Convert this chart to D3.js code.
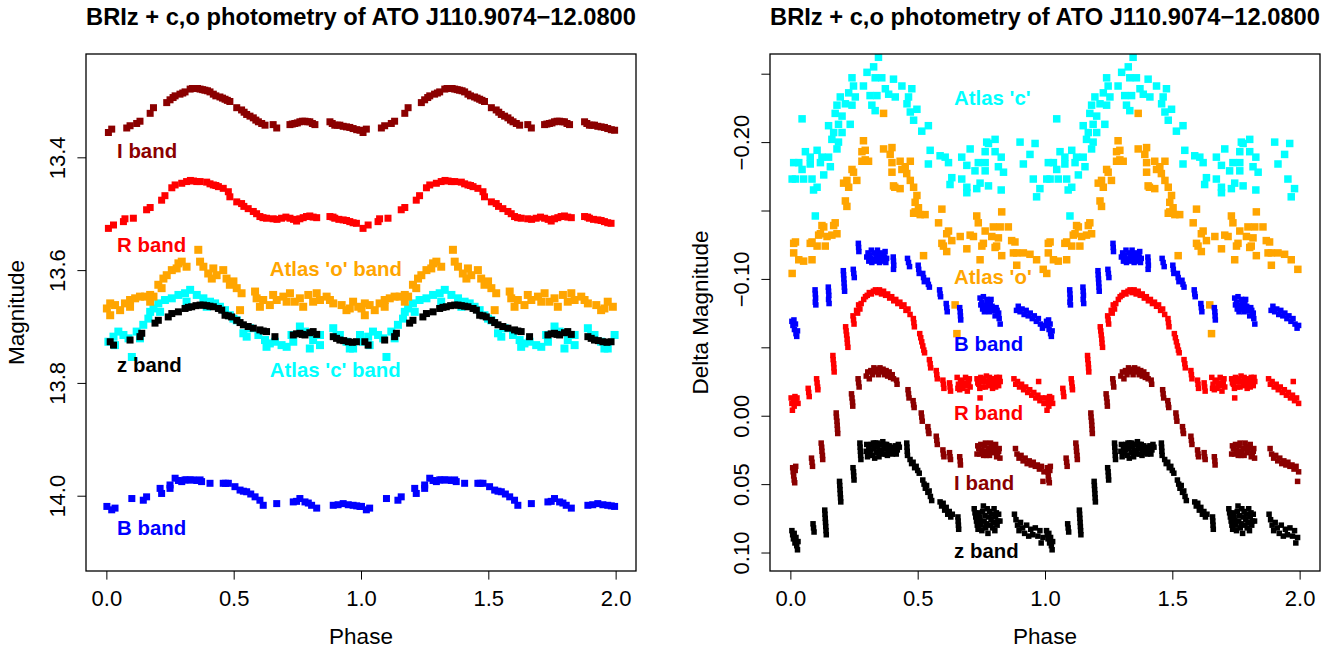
<!DOCTYPE html>
<html>
<head>
<meta charset="utf-8">
<script src="https://cdn.jsdelivr.net/npm/d3@7"></script>
<style>
  body { margin: 0; background: #fff; }
  svg text { font-family: "Liberation Sans", Arial, Helvetica, sans-serif; }
</style>
</head>
<body>
<svg id="chart" width="1344" height="650"></svg>
<script>
// ---------------------------------------------------------------
// Folded light curves of ATO J110.9074-12.0800, one cycle each as
// [phase, value]; every cycle is plotted twice (phase and phase + 1).
// ---------------------------------------------------------------

const titleText = "BRIz + c,o photometry of ATO J110.9074\u221212.0800";
const xTicks = [0, 0.5, 1, 1.5, 2];
const xTickLabels = ["0.0", "0.5", "1.0", "1.5", "2.0"];

// ---- left panel: apparent magnitudes ----
const magTicks = [13.4, 13.6, 13.8, 14.0];
const magTickLabels = ["13.4", "13.6", "13.8", "14.0"];

const magI = [
  [0.008,13.356],[0.021,13.350],[0.080,13.348],[0.093,13.344],[0.119,13.340],[0.132,13.336],
  [0.172,13.322],[0.185,13.312],[0.237,13.303],[0.250,13.298],[0.262,13.294],[0.270,13.291],
  [0.289,13.288],[0.300,13.286],[0.309,13.284],[0.329,13.279],[0.338,13.278],[0.348,13.278],
  [0.358,13.278],[0.368,13.279],[0.378,13.280],[0.387,13.281],[0.397,13.282],[0.407,13.284],
  [0.420,13.288],[0.430,13.291],[0.446,13.293],[0.456,13.295],[0.466,13.297],[0.475,13.299],
  [0.485,13.301],[0.512,13.312],[0.531,13.316],[0.541,13.320],[0.551,13.324],[0.564,13.327],
  [0.577,13.330],[0.587,13.334],[0.597,13.337],[0.610,13.340],[0.623,13.343],[0.655,13.342],
  [0.669,13.348],[0.721,13.342],[0.730,13.341],[0.740,13.340],[0.750,13.339],[0.760,13.337],
  [0.770,13.336],[0.780,13.336],[0.790,13.337],[0.799,13.337],[0.809,13.340],[0.819,13.342],
  [0.878,13.337],[0.887,13.340],[0.897,13.343],[0.907,13.343],[0.917,13.343],[0.930,13.345],
  [0.943,13.346],[0.956,13.347],[0.969,13.349],[0.983,13.351],[0.996,13.352]
];

const magR = [
  [0.008,13.526],[0.028,13.520],[0.067,13.514],[0.073,13.509],[0.106,13.508],[0.158,13.493],
  [0.172,13.489],[0.217,13.476],[0.230,13.468],[0.257,13.454],[0.270,13.449],[0.296,13.446],
  [0.315,13.443],[0.330,13.441],[0.342,13.442],[0.355,13.443],[0.368,13.443],[0.394,13.444],
  [0.407,13.447],[0.420,13.449],[0.430,13.450],[0.440,13.452],[0.459,13.455],[0.479,13.461],
  [0.485,13.470],[0.512,13.479],[0.531,13.482],[0.540,13.487],[0.557,13.491],[0.577,13.496],
  [0.590,13.500],[0.603,13.505],[0.615,13.507],[0.629,13.508],[0.655,13.509],[0.670,13.510],
  [0.688,13.508],[0.705,13.506],[0.721,13.508],[0.735,13.510],[0.747,13.513],[0.760,13.509],
  [0.773,13.507],[0.786,13.505],[0.799,13.504],[0.812,13.506],[0.826,13.507],[0.878,13.505],
  [0.890,13.506],[0.897,13.508],[0.913,13.510],[0.930,13.511],[0.943,13.512],[0.956,13.514],
  [0.969,13.516],[0.982,13.517]
];

const magO = [
  [0.002,13.668],[0.015,13.680],[0.015,13.659],[0.034,13.662],[0.054,13.671],[0.073,13.659],
  [0.093,13.653],[0.093,13.665],[0.113,13.650],[0.132,13.647],[0.152,13.647],[0.172,13.644],
  [0.172,13.656],[0.185,13.647],[0.204,13.626],[0.217,13.632],[0.224,13.615],[0.237,13.609],
  [0.257,13.600],[0.276,13.597],[0.283,13.588],[0.296,13.585],[0.315,13.594],[0.361,13.564],
  [0.368,13.585],[0.381,13.594],[0.400,13.606],[0.414,13.615],[0.420,13.597],[0.433,13.609],
  [0.459,13.600],[0.472,13.615],[0.485,13.626],[0.499,13.620],[0.512,13.632],[0.525,13.671],
  [0.531,13.641],[0.584,13.638],[0.590,13.650],[0.603,13.665],[0.616,13.653],[0.642,13.662],
  [0.655,13.644],[0.669,13.653],[0.695,13.647],[0.708,13.656],[0.721,13.641],[0.740,13.656],
  [0.760,13.650],[0.773,13.665],[0.793,13.644],[0.812,13.656],[0.826,13.641],[0.839,13.653],
  [0.865,13.647],[0.878,13.653],[0.891,13.659],[0.924,13.662],[0.943,13.671],[0.956,13.668],
  [0.969,13.656],[0.989,13.665]
];

const magC = [
  [0.008,13.727],[0.028,13.718],[0.034,13.733],[0.047,13.709],[0.067,13.715],[0.087,13.721],
  [0.100,13.754],[0.119,13.709],[0.132,13.721],[0.145,13.697],[0.165,13.686],[0.172,13.674],
  [0.185,13.668],[0.204,13.659],[0.211,13.674],[0.230,13.653],[0.257,13.650],[0.283,13.644],
  [0.309,13.641],[0.315,13.656],[0.329,13.635],[0.355,13.644],[0.381,13.650],[0.394,13.665],
  [0.407,13.656],[0.427,13.659],[0.446,13.665],[0.466,13.671],[0.485,13.680],[0.499,13.686],
  [0.512,13.689],[0.538,13.712],[0.551,13.718],[0.564,13.703],[0.597,13.715],[0.623,13.724],
  [0.629,13.736],[0.642,13.730],[0.662,13.727],[0.688,13.733],[0.708,13.736],[0.727,13.715],
  [0.734,13.727],[0.760,13.700],[0.780,13.709],[0.799,13.739],[0.812,13.724],[0.839,13.733],
  [0.839,13.715],[0.891,13.703],[0.904,13.715],[0.917,13.715],[0.943,13.727],[0.956,13.739],
  [0.969,13.739],[0.996,13.715]
];

const magZ = [
  [0.015,13.727],[0.028,13.733],[0.093,13.724],[0.132,13.718],[0.139,13.712],[0.191,13.694],
  [0.204,13.689],[0.243,13.683],[0.257,13.677],[0.283,13.674],[0.309,13.668],[0.322,13.666],
  [0.335,13.665],[0.352,13.663],[0.368,13.662],[0.381,13.662],[0.394,13.663],[0.407,13.664],
  [0.420,13.665],[0.440,13.668],[0.453,13.671],[0.466,13.680],[0.479,13.681],[0.492,13.683],
  [0.512,13.689],[0.525,13.693],[0.538,13.697],[0.557,13.700],[0.577,13.703],[0.603,13.706],
  [0.616,13.708],[0.629,13.709],[0.662,13.718],[0.734,13.715],[0.747,13.713],[0.760,13.712],
  [0.770,13.714],[0.780,13.715],[0.799,13.711],[0.812,13.709],[0.826,13.714],[0.891,13.718],
  [0.904,13.721],[0.917,13.724],[0.932,13.725],[0.950,13.727],[0.966,13.728],[0.982,13.727]
];

const magB = [
  [0.002,14.019],[0.021,14.025],[0.034,14.022],[0.100,14.005],[0.145,14.008],[0.158,14.002],
  [0.211,13.987],[0.217,13.996],[0.250,13.981],[0.250,13.987],[0.270,13.969],[0.283,13.973],
  [0.296,13.975],[0.309,13.972],[0.315,13.972],[0.329,13.972],[0.342,13.972],[0.355,13.973],
  [0.368,13.972],[0.374,13.975],[0.407,13.978],[0.459,13.978],[0.468,13.978],[0.479,13.978],
  [0.505,13.984],[0.525,13.990],[0.538,13.992],[0.551,13.993],[0.567,13.997],[0.584,14.002],
  [0.603,14.008],[0.616,14.017],[0.669,14.014],[0.734,14.011],[0.747,14.010],[0.760,14.005],
  [0.780,14.011],[0.793,14.013],[0.806,14.017],[0.826,14.022],[0.891,14.017],[0.910,14.016],
  [0.930,14.014],[0.950,14.016],[0.969,14.017],[0.983,14.018],[0.996,14.019]
];

// ---- right panel: magnitudes relative to each band's mean ----
const dmTicks = [-0.25, -0.20, -0.15, -0.10, -0.05, 0.00, 0.05, 0.10];
const dmTickLabels = ["", "\u22120.20", "", "\u22120.10", "", "0.00", "0.05", "0.10"];

const dmC = [
  [0.007,-0.173],[0.013,-0.185],[0.020,-0.173],[0.033,-0.185],[0.046,-0.180],[0.046,-0.217],
  [0.052,-0.173],[0.059,-0.193],[0.078,-0.189],[0.078,-0.184],[0.085,-0.173],[0.091,-0.165],
  [0.098,-0.146],[0.105,-0.194],[0.105,-0.167],[0.118,-0.185],[0.124,-0.189],[0.131,-0.176],
  [0.150,-0.189],[0.150,-0.212],[0.157,-0.182],[0.163,-0.202],[0.170,-0.207],[0.176,-0.221],
  [0.183,-0.227],[0.183,-0.195],[0.189,-0.213],[0.189,-0.200],[0.196,-0.233],[0.203,-0.219],
  [0.203,-0.207],[0.216,-0.228],[0.229,-0.236],[0.235,-0.213],[0.242,-0.247],[0.242,-0.227],
  [0.248,-0.241],[0.255,-0.233],[0.287,-0.241],[0.301,-0.251],[0.313,-0.234],[0.320,-0.227],
  [0.327,-0.255],[0.333,-0.247],[0.333,-0.223],[0.340,-0.234],[0.346,-0.262],[0.359,-0.247],
  [0.373,-0.239],[0.386,-0.235],[0.405,-0.246],[0.412,-0.233],[0.438,-0.241],[0.458,-0.228],
  [0.464,-0.233],[0.471,-0.222],[0.477,-0.239],[0.484,-0.216],[0.497,-0.224],[0.516,-0.208],
  [0.542,-0.212],[0.542,-0.184],[0.549,-0.194],[0.588,-0.190],[0.608,-0.189],[0.621,-0.185],
  [0.627,-0.169],[0.634,-0.174],[0.673,-0.189],[0.673,-0.173],[0.693,-0.183],[0.693,-0.167],
  [0.693,-0.163],[0.706,-0.195],[0.725,-0.179],[0.732,-0.166],[0.738,-0.185],[0.745,-0.170],
  [0.765,-0.179],[0.765,-0.185],[0.765,-0.193],[0.771,-0.200],[0.778,-0.199],[0.778,-0.168],
  [0.804,-0.193],[0.804,-0.202],[0.817,-0.182],[0.828,-0.189],[0.828,-0.165],[0.837,-0.178],
  [0.902,-0.200],[0.915,-0.184],[0.941,-0.191],[0.954,-0.173],[0.961,-0.199],[0.967,-0.160],
  [0.980,-0.166]
];

const dmO = [
  [0.007,-0.104],[0.013,-0.126],[0.013,-0.119],[0.020,-0.127],[0.033,-0.114],[0.052,-0.113],
  [0.078,-0.126],[0.085,-0.114],[0.085,-0.127],[0.105,-0.124],[0.111,-0.132],[0.118,-0.133],
  [0.124,-0.139],[0.131,-0.138],[0.137,-0.124],[0.144,-0.131],[0.163,-0.132],[0.170,-0.139],
  [0.176,-0.141],[0.183,-0.133],[0.209,-0.170],[0.216,-0.157],[0.222,-0.153],[0.222,-0.172],
  [0.229,-0.167],[0.242,-0.180],[0.248,-0.178],[0.261,-0.172],[0.281,-0.186],[0.281,-0.193],
  [0.287,-0.201],[0.294,-0.194],[0.294,-0.187],[0.307,-0.186],[0.366,-0.221],[0.366,-0.195],
  [0.392,-0.191],[0.399,-0.196],[0.399,-0.185],[0.399,-0.178],[0.405,-0.168],[0.410,-0.167],
  [0.431,-0.186],[0.431,-0.166],[0.438,-0.180],[0.451,-0.182],[0.457,-0.177],[0.471,-0.186],
  [0.471,-0.172],[0.484,-0.167],[0.484,-0.148],[0.490,-0.156],[0.490,-0.149],[0.497,-0.161],
  [0.503,-0.152],[0.510,-0.147],[0.523,-0.117],[0.529,-0.147],[0.582,-0.141],[0.595,-0.151],
  [0.595,-0.126],[0.601,-0.124],[0.614,-0.133],[0.614,-0.120],[0.621,-0.135],[0.634,-0.128],
  [0.647,-0.081],[0.654,-0.060],[0.667,-0.131],[0.693,-0.122],[0.706,-0.132],[0.719,-0.131],
  [0.732,-0.146],[0.738,-0.141],[0.745,-0.114],[0.752,-0.124],[0.758,-0.126],[0.765,-0.135],
  [0.791,-0.131],[0.797,-0.138],[0.804,-0.123],[0.810,-0.124],[0.817,-0.130],[0.824,-0.138],
  [0.830,-0.149],[0.830,-0.117],[0.856,-0.138],[0.869,-0.128],[0.876,-0.119],[0.882,-0.127],
  [0.889,-0.119],[0.889,-0.110],[0.915,-0.119],[0.941,-0.118],[0.967,-0.114],[0.993,-0.107]
];

const dmB = [
  [0.006,-0.069],[0.010,-0.066],[0.014,-0.070],[0.016,-0.063],[0.020,-0.067],[0.022,-0.060],
  [0.025,-0.058],[0.028,-0.062],[0.097,-0.092],[0.098,-0.089],[0.099,-0.086],[0.098,-0.083],
  [0.100,-0.081],[0.149,-0.094],[0.150,-0.091],[0.151,-0.088],[0.150,-0.085],[0.152,-0.082],
  [0.208,-0.106],[0.209,-0.103],[0.210,-0.100],[0.211,-0.097],[0.212,-0.094],[0.213,-0.091],
  [0.247,-0.107],[0.249,-0.104],[0.251,-0.101],[0.267,-0.126],[0.268,-0.123],[0.269,-0.120],
  [0.300,-0.116],[0.305,-0.119],[0.308,-0.113],[0.312,-0.117],[0.315,-0.115],[0.318,-0.121],
  [0.320,-0.112],[0.325,-0.114],[0.330,-0.119],[0.333,-0.113],[0.336,-0.116],[0.342,-0.121],
  [0.345,-0.115],[0.348,-0.118],[0.350,-0.112],[0.355,-0.114],[0.360,-0.119],[0.363,-0.113],
  [0.366,-0.117],[0.370,-0.116],[0.372,-0.120],[0.375,-0.112],[0.378,-0.115],[0.404,-0.116],
  [0.405,-0.113],[0.406,-0.110],[0.405,-0.107],[0.460,-0.115],[0.464,-0.112],[0.468,-0.109],
  [0.502,-0.110],[0.504,-0.107],[0.506,-0.104],[0.520,-0.104],[0.523,-0.101],[0.526,-0.098],
  [0.538,-0.099],[0.542,-0.096],[0.546,-0.094],[0.586,-0.092],[0.588,-0.089],[0.590,-0.087],
  [0.612,-0.082],[0.614,-0.079],[0.616,-0.076],[0.665,-0.079],[0.667,-0.076],[0.668,-0.073],
  [0.669,-0.070],[0.745,-0.086],[0.748,-0.081],[0.752,-0.083],[0.755,-0.078],[0.758,-0.087],
  [0.762,-0.076],[0.765,-0.081],[0.768,-0.078],[0.772,-0.085],[0.775,-0.082],[0.778,-0.079],
  [0.782,-0.076],[0.785,-0.083],[0.788,-0.085],[0.792,-0.080],[0.796,-0.079],[0.800,-0.077],
  [0.804,-0.073],[0.808,-0.079],[0.812,-0.077],[0.815,-0.074],[0.818,-0.075],[0.820,-0.071],
  [0.824,-0.067],[0.888,-0.077],[0.895,-0.080],[0.902,-0.076],[0.910,-0.078],[0.918,-0.074],
  [0.926,-0.077],[0.934,-0.073],[0.942,-0.075],[0.950,-0.071],[0.958,-0.073],[0.966,-0.069],
  [0.974,-0.071],[0.982,-0.067],[0.990,-0.064],[0.996,-0.066]
];

const dmR = [
  [0.003,-0.013],[0.006,-0.009],[0.008,-0.004],[0.012,-0.011],[0.015,-0.007],[0.018,-0.014],
  [0.022,-0.010],[0.026,-0.013],[0.030,-0.009],[0.070,-0.020],[0.072,-0.017],[0.074,-0.014],
  [0.103,-0.027],[0.105,-0.024],[0.107,-0.021],[0.108,-0.019],[0.167,-0.044],[0.168,-0.041],
  [0.170,-0.038],[0.171,-0.035],[0.172,-0.032],[0.217,-0.065],[0.219,-0.062],[0.221,-0.059],
  [0.223,-0.056],[0.224,-0.053],[0.226,-0.050],[0.246,-0.073],[0.248,-0.070],[0.250,-0.067],
  [0.260,-0.077],[0.264,-0.075],[0.268,-0.081],[0.273,-0.078],[0.278,-0.082],[0.288,-0.085],
  [0.295,-0.087],[0.302,-0.088],[0.310,-0.090],[0.318,-0.089],[0.326,-0.091],[0.334,-0.092],
  [0.342,-0.090],[0.350,-0.092],[0.358,-0.089],[0.366,-0.091],[0.374,-0.088],[0.382,-0.089],
  [0.390,-0.086],[0.398,-0.087],[0.406,-0.084],[0.414,-0.085],[0.422,-0.082],[0.430,-0.083],
  [0.438,-0.080],[0.446,-0.081],[0.454,-0.077],[0.462,-0.078],[0.470,-0.074],[0.483,-0.071],
  [0.485,-0.068],[0.487,-0.065],[0.508,-0.060],[0.512,-0.057],[0.516,-0.054],[0.520,-0.051],
  [0.524,-0.048],[0.527,-0.046],[0.546,-0.041],[0.549,-0.038],[0.551,-0.035],[0.573,-0.033],
  [0.575,-0.030],[0.577,-0.027],[0.599,-0.026],[0.601,-0.023],[0.603,-0.020],[0.625,-0.024],
  [0.627,-0.021],[0.629,-0.018],[0.655,-0.028],[0.658,-0.020],[0.660,-0.023],[0.665,-0.019],
  [0.668,-0.025],[0.672,-0.026],[0.676,-0.020],[0.680,-0.022],[0.684,-0.024],[0.688,-0.028],
  [0.692,-0.022],[0.695,-0.018],[0.700,-0.024],[0.703,-0.027],[0.706,-0.021],[0.733,-0.027],
  [0.736,-0.024],[0.740,-0.023],[0.744,-0.020],[0.745,-0.013],[0.748,-0.028],[0.752,-0.025],
  [0.755,-0.021],[0.759,-0.027],[0.762,-0.025],[0.766,-0.021],[0.770,-0.029],[0.774,-0.025],
  [0.778,-0.022],[0.782,-0.028],[0.786,-0.026],[0.790,-0.023],[0.794,-0.020],[0.798,-0.027],
  [0.802,-0.024],[0.806,-0.021],[0.810,-0.028],[0.814,-0.025],[0.818,-0.022],[0.821,-0.028],
  [0.824,-0.025],[0.878,-0.027],[0.885,-0.023],[0.892,-0.025],[0.900,-0.021],[0.908,-0.023],
  [0.916,-0.019],[0.924,-0.021],[0.932,-0.017],[0.940,-0.019],[0.948,-0.015],[0.956,-0.017],
  [0.964,-0.013],[0.972,-0.015],[0.975,-0.025],[0.980,-0.011],[0.988,-0.013],[0.996,-0.009]
];

const dmI = [
  [0.009,0.038],[0.011,0.041],[0.013,0.044],[0.015,0.047],[0.017,0.049],[0.019,0.040],
  [0.021,0.037],[0.083,0.031],[0.085,0.034],[0.087,0.037],[0.121,0.020],[0.123,0.023],
  [0.124,0.026],[0.126,0.029],[0.127,0.032],[0.180,-0.002],[0.181,0.001],[0.183,0.004],
  [0.184,0.007],[0.185,0.010],[0.186,0.013],[0.240,-0.016],[0.242,-0.013],[0.244,-0.010],
  [0.245,-0.007],[0.266,-0.027],[0.268,-0.024],[0.270,-0.021],[0.298,-0.029],[0.304,-0.032],
  [0.310,-0.027],[0.316,-0.033],[0.322,-0.030],[0.328,-0.035],[0.334,-0.032],[0.340,-0.034],
  [0.346,-0.030],[0.352,-0.035],[0.358,-0.032],[0.364,-0.034],[0.370,-0.030],[0.376,-0.033],
  [0.382,-0.029],[0.388,-0.032],[0.394,-0.028],[0.400,-0.030],[0.405,-0.027],[0.417,-0.026],
  [0.419,-0.023],[0.462,-0.019],[0.464,-0.016],[0.466,-0.013],[0.482,-0.011],[0.484,-0.008],
  [0.486,-0.006],[0.514,-0.002],[0.516,0.001],[0.518,0.004],[0.540,0.008],[0.542,0.011],
  [0.544,0.013],[0.573,0.015],[0.575,0.018],[0.577,0.021],[0.599,0.025],[0.601,0.028],
  [0.603,0.030],[0.625,0.027],[0.627,0.030],[0.629,0.032],[0.665,0.030],[0.667,0.033],
  [0.668,0.036],[0.733,0.028],[0.736,0.022],[0.740,0.024],[0.744,0.028],[0.748,0.021],
  [0.752,0.025],[0.755,0.026],[0.759,0.029],[0.762,0.022],[0.766,0.020],[0.770,0.029],
  [0.774,0.026],[0.778,0.024],[0.782,0.029],[0.786,0.020],[0.790,0.023],[0.794,0.027],
  [0.798,0.025],[0.802,0.023],[0.806,0.021],[0.810,0.030],[0.814,0.028],[0.818,0.026],
  [0.820,0.024],[0.823,0.031],[0.884,0.024],[0.890,0.028],[0.898,0.031],[0.906,0.029],
  [0.914,0.033],[0.922,0.031],[0.930,0.035],[0.938,0.033],[0.946,0.036],[0.954,0.034],
  [0.962,0.037],[0.970,0.036],[0.978,0.039],[0.986,0.037],[0.992,0.048],[0.996,0.041]
];

const dmZ = [
  [0.006,0.084],[0.009,0.087],[0.012,0.090],[0.015,0.086],[0.018,0.093],[0.022,0.089],
  [0.025,0.095],[0.028,0.098],[0.030,0.092],[0.089,0.079],[0.091,0.082],[0.093,0.085],
  [0.135,0.069],[0.136,0.072],[0.137,0.075],[0.138,0.078],[0.139,0.081],[0.140,0.084],
  [0.141,0.087],[0.193,0.048],[0.194,0.051],[0.195,0.054],[0.196,0.057],[0.197,0.060],
  [0.198,0.063],[0.246,0.038],[0.248,0.041],[0.249,0.044],[0.250,0.047],[0.273,0.020],
  [0.274,0.023],[0.275,0.026],[0.276,0.029],[0.277,0.032],[0.298,0.026],[0.300,0.021],
  [0.303,0.030],[0.306,0.027],[0.308,0.023],[0.313,0.027],[0.316,0.025],[0.318,0.021],
  [0.323,0.029],[0.326,0.020],[0.328,0.024],[0.331,0.031],[0.333,0.020],[0.338,0.027],
  [0.341,0.020],[0.343,0.023],[0.348,0.030],[0.351,0.026],[0.353,0.021],[0.358,0.025],
  [0.361,0.028],[0.363,0.019],[0.368,0.024],[0.371,0.021],[0.373,0.028],[0.378,0.021],
  [0.381,0.029],[0.383,0.025],[0.388,0.022],[0.391,0.025],[0.393,0.027],[0.398,0.023],
  [0.401,0.028],[0.405,0.026],[0.409,0.024],[0.412,0.022],[0.416,0.028],[0.420,0.025],
  [0.424,0.021],[0.428,0.023],[0.457,0.020],[0.458,0.023],[0.459,0.026],[0.460,0.029],
  [0.470,0.032],[0.476,0.035],[0.482,0.034],[0.488,0.038],[0.494,0.037],[0.500,0.040],
  [0.506,0.042],[0.520,0.047],[0.525,0.050],[0.530,0.053],[0.535,0.051],[0.540,0.056],
  [0.545,0.055],[0.550,0.059],[0.555,0.062],[0.588,0.063],[0.594,0.066],[0.600,0.064],
  [0.606,0.069],[0.612,0.067],[0.618,0.072],[0.624,0.070],[0.630,0.074],[0.636,0.072],
  [0.658,0.074],[0.659,0.077],[0.660,0.080],[0.661,0.083],[0.722,0.068],[0.725,0.071],
  [0.728,0.074],[0.731,0.077],[0.734,0.080],[0.737,0.083],[0.740,0.071],[0.743,0.074],
  [0.746,0.077],[0.749,0.080],[0.752,0.084],[0.755,0.070],[0.758,0.066],[0.761,0.077],
  [0.764,0.073],[0.767,0.082],[0.770,0.079],[0.773,0.068],[0.776,0.086],[0.779,0.074],
  [0.782,0.070],[0.785,0.080],[0.788,0.076],[0.791,0.072],[0.794,0.082],[0.797,0.078],
  [0.800,0.068],[0.803,0.084],[0.806,0.074],[0.809,0.071],[0.812,0.080],[0.815,0.077],
  [0.818,0.072],[0.823,0.077],[0.880,0.072],[0.886,0.076],[0.892,0.080],[0.898,0.084],
  [0.904,0.078],[0.912,0.082],[0.920,0.086],[0.928,0.080],[0.936,0.088],[0.944,0.083],
  [0.952,0.087],[0.962,0.082],[0.972,0.088],[0.980,0.084],[0.985,0.093],[0.992,0.089]
];

// Band labels, placed in data coordinates (phase, value at text baseline)
const magLabels = [
  ["I band", 0.042, 13.401, "#8B0000"],
  ["R band", 0.042, 13.568, "#FF0000"],
  ["Atlas 'o' band", 0.642, 13.610, "#FFA500"],
  ["z band", 0.042, 13.781, "#000000"],
  ["Atlas 'c' band", 0.642, 13.789, "#00FFFF"],
  ["B band", 0.042, 14.070, "#0000FF"]
];
const dmLabels = [
  ["Atlas 'c'", 0.643, -0.227, "#00FFFF"],
  ["Atlas 'o'", 0.643, -0.096, "#FFA500"],
  ["B band", 0.643, -0.047, "#0000FF"],
  ["R band", 0.643, 0.003, "#FF0000"],
  ["I band", 0.643, 0.054, "#8B0000"],
  ["z band", 0.643, 0.104, "#000000"]
];

// ---------------------------------------------------------------
const svg = d3.select("#chart");
const defs = svg.append("defs");

function drawPanel(p) {
  const x = d3.scaleLinear().domain([-0.08, 2.08]).range([p.left, p.right]);
  const y = d3.scaleLinear().domain(p.yDomain).range([p.top, p.bottom]);
  const g = svg.append("g");

  defs.append("clipPath").attr("id", p.id + "-clip")
    .append("rect")
    .attr("x", p.left).attr("y", p.top)
    .attr("width", p.right - p.left).attr("height", p.bottom - p.top);

  const marks = g.append("g").attr("clip-path", `url(#${p.id}-clip)`);
  p.series.forEach(s => {
    const pts = s.data.flatMap(d => [[d[0], d[1]], [d[0] + 1, d[1]]]);
    marks.append("g").attr("fill", s.color)
      .selectAll("rect").data(pts).join("rect")
      .attr("x", d => x(d[0]) - s.size / 2)
      .attr("y", d => y(d[1]) - s.size / 2)
      .attr("width", s.size).attr("height", s.size);
  });

  // frame
  g.append("rect")
    .attr("x", p.left).attr("y", p.top)
    .attr("width", p.right - p.left).attr("height", p.bottom - p.top)
    .attr("fill", "none").attr("stroke", "#000").attr("stroke-width", 1.3);

  // x axis
  const xAxis = g.append("g").attr("transform", `translate(0,${p.bottom})`)
    .call(d3.axisBottom(x).tickValues(xTicks)
      .tickFormat((d, i) => xTickLabels[i]).tickSize(8.6));
  xAxis.select(".domain").remove();
  xAxis.selectAll(".tick line").attr("stroke", "#000");
  xAxis.selectAll(".tick text")
    .attr("y", 34.7).attr("dy", 0)
    .attr("font-size", 22).attr("fill", "#000")
    .style("font-family", '"Liberation Sans", Arial, sans-serif');

  // y axis with labels rotated parallel to the axis
  const yAxis = g.append("g").attr("transform", `translate(${p.left},0)`)
    .call(d3.axisLeft(y).tickValues(p.yTicks)
      .tickFormat((d, i) => p.yTickLabels[i]).tickSize(8.6));
  yAxis.select(".domain").remove();
  yAxis.selectAll(".tick line").attr("stroke", "#000");
  yAxis.selectAll(".tick text")
    .attr("transform", "rotate(-90)")
    .attr("x", 0).attr("y", -21).attr("dy", 0)
    .attr("text-anchor", "middle")
    .attr("font-size", 22).attr("fill", "#000")
    .style("font-family", '"Liberation Sans", Arial, sans-serif');

  // band labels
  g.append("g").selectAll("text").data(p.labels).join("text")
    .attr("x", d => x(d[1])).attr("y", d => y(d[2]))
    .attr("fill", d => d[3])
    .attr("font-size", 20.4).attr("font-weight", "bold")
    .text(d => d[0]);

  const cx = (p.left + p.right) / 2;
  const cy = (p.top + p.bottom) / 2;

  // title and axis titles
  g.append("text").attr("x", cx).attr("y", 25)
    .attr("text-anchor", "middle").attr("font-size", 23.7).attr("font-weight", "bold")
    .text(titleText);
  g.append("text").attr("x", cx).attr("y", 643.5)
    .attr("text-anchor", "middle").attr("font-size", 22.5)
    .text("Phase");
  g.append("text")
    .attr("transform", `translate(${p.left - p.yTitleGap},${cy}) rotate(-90)`)
    .attr("text-anchor", "middle").attr("font-size", 22.5)
    .text(p.yTitle);
}

drawPanel({
  id: "mag", left: 86, right: 636, top: 54, bottom: 571,
  yDomain: [13.2168, 14.1335], yTicks: magTicks, yTickLabels: magTickLabels,
  yTitle: "Magnitude", yTitleGap: 62,
  labels: magLabels,
  series: [
    { data: magI, color: "#8B0000", size: 7 },
    { data: magR, color: "#FF0000", size: 7 },
    { data: magB, color: "#0000FF", size: 7 },
    { data: magC, color: "#00FFFF", size: 8 },
    { data: magO, color: "#FFA500", size: 8 },
    { data: magZ, color: "#000000", size: 7 }
  ]
});

drawPanel({
  id: "dmag", left: 770, right: 1320, top: 54, bottom: 571,
  yDomain: [-0.2644, 0.1135], yTicks: dmTicks, yTickLabels: dmTickLabels,
  yTitle: "Delta Magnitude", yTitleGap: 62,
  labels: dmLabels,
  series: [
    { data: dmC, color: "#00FFFF", size: 7.5 },
    { data: dmO, color: "#FFA500", size: 7.5 },
    { data: dmB, color: "#0000FF", size: 5.5 },
    { data: dmR, color: "#FF0000", size: 5.5 },
    { data: dmI, color: "#8B0000", size: 5.5 },
    { data: dmZ, color: "#000000", size: 5.5 }
  ]
});
</script>
</body>
</html>
